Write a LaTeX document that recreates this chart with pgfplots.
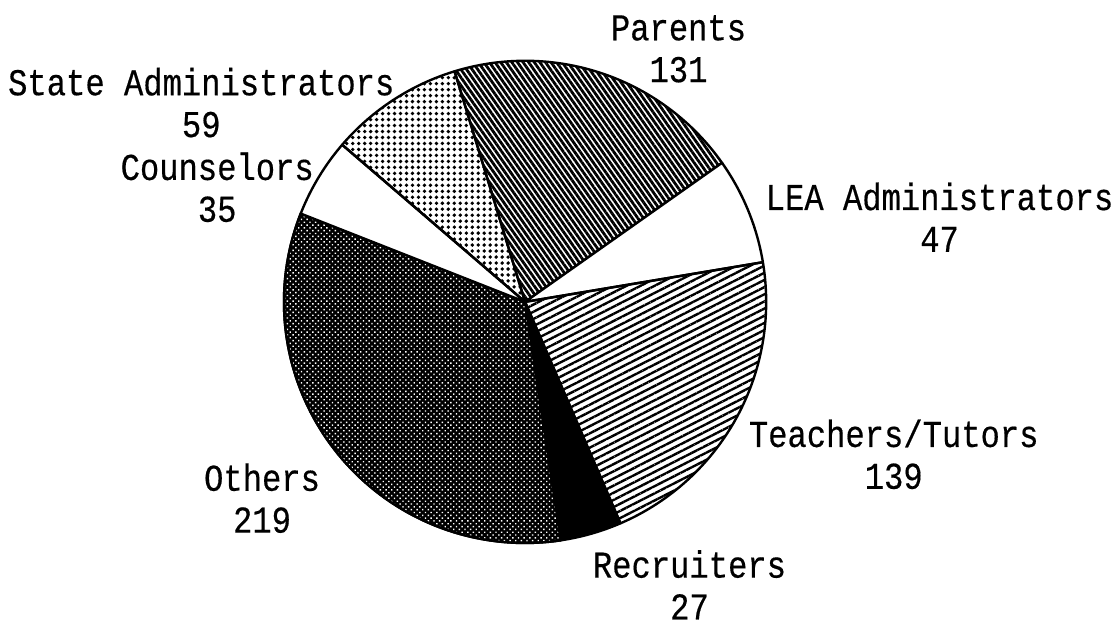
\documentclass[border=0pt]{standalone}
\usepackage{fontspec}
\setmainfont{Liberation Mono}[FakeStretch=0.85, FakeBold=0.4]
\usepackage{pgfplots}
\usepackage{pgfplotstable}
\pgfplotsset{compat=1.18}
\usetikzlibrary{patterns.meta}

% respondents by group, clockwise from the top
\pgfplotstableread{
label value
Parents 131
LEA 47
Teachers 139
Recruiters 27
Others 219
Counselors 35
State 59
}\piedata

\pgfplotsset{
  wedge/.style={draw=black, line width=1.2pt, line join=round},
  wedge0/.style={wedge, pattern={Lines[angle=-55, distance=2.3pt, line width=1.4pt]}},
  wedge1/.style={wedge, fill=white},
  wedge2/.style={wedge, pattern={Lines[angle=27, distance=3.2pt, line width=1.2pt]}},
  wedge3/.style={wedge, fill=black},
  wedge4/.style={wedge, fill=black, postaction={pattern={Dots[distance=2pt, radius=0.5pt, angle=45]}, pattern color=white}},
  wedge5/.style={wedge, fill=white},
  wedge6/.style={wedge, pattern={Dots[distance=3pt, radius=0.95pt]}},
}

\begin{document}
\begin{tikzpicture}
\begin{axis}[
  width=560pt, height=318pt, scale only axis,
  xmin=0, xmax=1120, ymin=0, ymax=636,
  hide axis, clip=false,
]
\path (rel axis cs:0,0) rectangle (rel axis cs:1,1);
\def\cx{527}\def\cy{333}\def\R{242}
\def\total{657}
\def\acur{107}
\pgfplotsforeachungrouped \i in {0,...,6}{
  \pgfplotstablegetelem{\i}{value}\of\piedata
  \pgfmathsetmacro\aone{\acur}
  \pgfmathsetmacro\atwo{\acur-\pgfplotsretval/\total*360}
  \edef\doplot{\noexpand\addplot[wedge\i, domain=\atwo:\aone, samples=80, variable=\noexpand\t]
    ({\cx+\R*cos(\noexpand\t)},{\cy+\R*sin(\noexpand\t)}) -- (axis cs:\cx,\cy) -- cycle;}
  \doplot
  \global\let\acur\atwo
}
\tikzset{lbl/.style={align=center, font=\fontsize{19}{21}\selectfont}}
\node[lbl] at (axis cs:681,587) {Parents\\131};
\node[lbl] at (axis cs:202,533) {State Administrators\\59};
\node[lbl] at (axis cs:218,448) {Counselors\\35};
\node[lbl] at (axis cs:943,418) {LEA Administrators\\47};
\node[lbl] at (axis cs:897,180) {Teachers/Tutors\\139};
\node[lbl] at (axis cs:263,136) {Others\\219};
\node[lbl] at (axis cs:692,49) {Recruiters\\27};
\end{axis}
\end{tikzpicture}
\end{document}
